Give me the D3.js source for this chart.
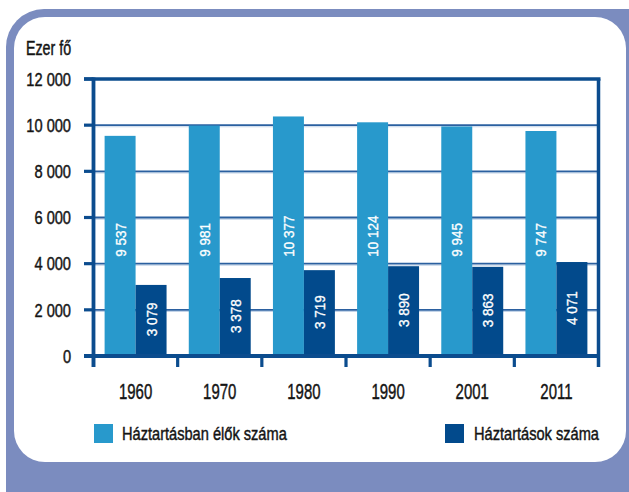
<!DOCTYPE html>
<html><head><meta charset="utf-8">
<script src="https://cdn.jsdelivr.net/npm/d3@7"></script>
<style>
html,body{margin:0;padding:0;background:#fff;}
svg{display:block;}
text{font-family:"Liberation Sans",Arial,sans-serif;fill:#141414;}
</style></head>
<body>
<svg id="c" width="629" height="492"></svg>
<script>
const years = ["1960","1970","1980","1990","2001","2011"];
const persons = [9537, 9981, 10377, 10124, 9945, 9747];
const households = [3079, 3378, 3719, 3890, 3863, 4071];
const yTicks = [0, 2000, 4000, 6000, 8000, 10000, 12000];
const seriesNames = ["Háztartásban élők száma", "Háztartások száma"];
const unitLabel = "Ezer fő";

(function () {
const colLight = "#2899cc", colDark = "#024a8c", axisCol = "#0b4c8e", frameCol = "#7b8cbf";

const svg = d3.select("#c");
const loc = d3.formatLocale({decimal: ",", thousands: " ", grouping: [3], currency: ["", ""]});
const fmt = loc.format(",d");

// frame
svg.append("rect").attr("x", 6).attr("y", 9).attr("width", 660).attr("height", 520).attr("rx", 38).attr("fill", frameCol);
svg.append("rect").attr("x", 14).attr("y", 17).attr("width", 612).attr("height", 445).attr("rx", 31).attr("fill", "#fff");

const pL = 93.5, pR = 598.5, pT = 79, pB = 356;
const y = d3.scaleLinear().domain([0, 12000]).range([pB, pT]);
const x = d3.scaleBand().domain(years).range([pL, pR]).padding(0);
const bw = x.bandwidth() * 0.368;

// gridlines
const g = svg.append("g");
yTicks.filter(t => t > 0 && t < 12000).forEach(t => {
  g.append("line").attr("x1", pL).attr("x2", pR).attr("y1", y(t) + 1.6).attr("y2", y(t) + 1.6)
    .attr("stroke", "#c3d4e8").attr("stroke-width", 1.2);
  g.append("line").attr("x1", pL).attr("x2", pR).attr("y1", y(t)).attr("y2", y(t))
    .attr("stroke", "#2b60a0").attr("stroke-width", 1.8);
});

function rtext(px, py, str, anchor) {
  return bars.append("text").attr("transform", `translate(${px},${py}) rotate(-90) scale(0.9,1)`)
    .attr("text-anchor", anchor).style("font-size", "15px")
    .style("fill", "#fff").style("stroke", "#fff").style("stroke-width", "0.35px").text(str);
}

// bars
const bars = svg.append("g");
years.forEach((yr, i) => {
  const cx = x(yr) + x.bandwidth() / 2;
  bars.append("rect").attr("x", cx - bw).attr("y", y(persons[i])).attr("width", bw)
    .attr("height", y(0) - y(persons[i])).attr("fill", colLight);
  bars.append("rect").attr("x", cx).attr("y", y(households[i])).attr("width", bw)
    .attr("height", y(0) - y(households[i])).attr("fill", colDark);
  rtext(cx - bw / 2 + 5.5, y(4300), fmt(persons[i]), "start");
  const my = (y(households[i]) + y(0)) / 2 - 1;
  rtext(cx + bw / 2 + 5.5, my, fmt(households[i]), "middle");
});

// axes
const ax = svg.append("g").attr("stroke", axisCol).attr("fill", "none");
ax.append("line").attr("x1", 84).attr("x2", pR + 2).attr("y1", pT).attr("y2", pT).attr("stroke-width", 3.5);
ax.append("line").attr("x1", pR).attr("x2", pR).attr("y1", pT).attr("y2", 367).attr("stroke-width", 3.5);
ax.append("line").attr("x1", pL).attr("x2", pL).attr("y1", pT - 1.5).attr("y2", 367).attr("stroke-width", 3.8);
ax.append("line").attr("x1", 84).attr("x2", pR).attr("y1", pB).attr("y2", pB).attr("stroke-width", 3.8);
yTicks.forEach(t => {
  ax.append("line").attr("x1", 84).attr("x2", pL).attr("y1", y(t)).attr("y2", y(t)).attr("stroke-width", 3.2);
});
years.forEach(yr => {
  ax.append("line").attr("x1", x(yr)).attr("x2", x(yr)).attr("y1", pB).attr("y2", 367).attr("stroke-width", 3.2);
});

function ctext(px, py, str, size, sx, anchor) {
  return svg.append("text").attr("transform", `translate(${px},${py}) scale(${sx},1)`)
    .attr("text-anchor", anchor).style("font-size", size + "px")
    .style("stroke", "#141414").style("stroke-width", "0.45px").text(str);
}

yTicks.forEach(t => { ctext(71, y(t) + 6.7, fmt(t), 18.5, 0.79, "end"); });
years.forEach(yr => { ctext(x(yr) + x.bandwidth() / 2, 399, yr, 22, 0.68, "middle"); });
ctext(26, 55, unitLabel, 19.5, 0.73, "start");

svg.append("rect").attr("x", 94).attr("y", 424).attr("width", 19).attr("height", 19).attr("fill", colLight);
ctext(122, 440, seriesNames[0], 18.5, 0.79, "start");
svg.append("rect").attr("x", 445).attr("y", 424).attr("width", 19).attr("height", 19).attr("fill", colDark);
ctext(474, 440, seriesNames[1], 18.5, 0.79, "start");
})();
</script>
</body></html>
